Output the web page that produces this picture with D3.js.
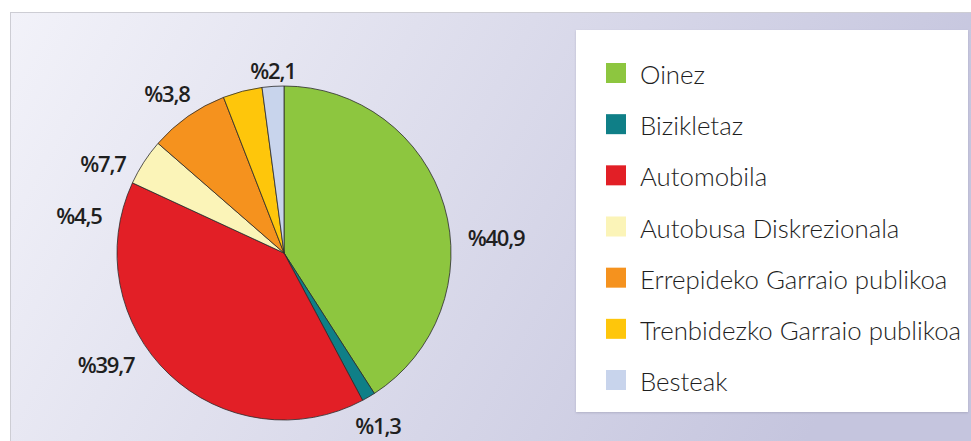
<!DOCTYPE html>
<html>
<head>
<meta charset="utf-8">
<script src="https://cdn.jsdelivr.net/npm/d3@7"></script>
<style>
  html, body { margin: 0; padding: 0; background: #ffffff; }
  svg { display: block; }
</style>
</head>
<body>
<svg id="chart" width="971" height="441"></svg>
<script>
// Modal split of trips (percent)
const categories = [
  "Oinez",
  "Bizikletaz",
  "Automobila",
  "Autobusa Diskrezionala",
  "Errepideko Garraio publikoa",
  "Trenbidezko Garraio publikoa",
  "Besteak"
];
const shares = [40.9, 1.3, 39.7, 4.5, 7.7, 3.8, 2.1];
const shareLabels = ["%40,9", "%1,3", "%39,7", "%4,5", "%7,7", "%3,8", "%2,1"];
const colors = ["#8dc63f", "#0f7f87", "#e21f26", "#fbf4b8", "#f5921e", "#fec60b", "#c8d4ec"];

const svg = d3.select("#chart");
const W = 971, H = 441;

// Panel background
const defs = svg.append("defs");
const grad = defs.append("linearGradient")
  .attr("id", "panelBg")
  .attr("x1", "0").attr("y1", "0").attr("x2", "1").attr("y2", "0.25");
grad.append("stop").attr("offset", "0%").attr("stop-color", "#f2f2f9");
grad.append("stop").attr("offset", "40%").attr("stop-color", "#e0e0ee");
grad.append("stop").attr("offset", "100%").attr("stop-color", "#c5c5de");

const shadow = defs.append("filter").attr("id", "boxShadow")
  .attr("x", "-5%").attr("y", "-5%").attr("width", "115%").attr("height", "115%");
shadow.append("feDropShadow")
  .attr("dx", 0).attr("dy", 1).attr("stdDeviation", 1.2)
  .attr("flood-color", "#8a8aa0").attr("flood-opacity", 0.45);

svg.append("rect")
  .attr("x", 10.5).attr("y", 12.5)
  .attr("width", W).attr("height", H)
  .attr("fill", "url(#panelBg)")
  .attr("stroke", "#cdcdd4").attr("stroke-width", 1);

// Pie
const cx = 284, cy = 253, radius = 167;
const pie = d3.pie().sort(null).value(d => d)
  .startAngle(0).endAngle(2 * Math.PI);
const arc = d3.arc().innerRadius(0).outerRadius(radius);

const pieG = svg.append("g").attr("transform", `translate(${cx},${cy})`);
pieG.selectAll("path.slice")
  .data(pie(shares))
  .join("path")
  .attr("class", "slice")
  .attr("d", arc)
  .attr("fill", (d, i) => colors[i])
  .attr("stroke", "#2b2b2b")
  .attr("stroke-width", 0.8)
  .attr("stroke-linejoin", "round");

// Percentage labels around the pie (offsets from the pie centre)
const labelOffsets = [
  [212, -16], [94, 172], [-178, 111], [-205, -38],
  [-181, -90], [-117, -160], [-11, -183]
];
svg.append("g")
  .selectAll("text")
  .data(shareLabels)
  .join("text")
  .attr("x", (d, i) => cx + labelOffsets[i][0])
  .attr("y", (d, i) => cy + labelOffsets[i][1])
  .attr("text-anchor", "middle")
  .attr("dominant-baseline", "central")
  .attr("font-family", "'Open Sans', sans-serif")
  .attr("font-weight", 600)
  .attr("font-size", 22)
  .attr("letter-spacing", -1.2)
  .attr("fill", "#1f1f1f")
  .text(d => d);

// Legend
const legendBox = { x: 576, y: 30, w: 392, h: 382 };
svg.append("rect")
  .attr("x", legendBox.x).attr("y", legendBox.y)
  .attr("width", legendBox.w).attr("height", legendBox.h)
  .attr("fill", "#ffffff")
  .attr("filter", "url(#boxShadow)");

const rowY = d3.scalePoint()
  .domain(categories)
  .range([73, 380]);

const legend = svg.append("g");
const rows = legend.selectAll("g.row")
  .data(categories)
  .join("g")
  .attr("class", "row")
  .attr("transform", d => `translate(0,${rowY(d)})`);

rows.append("rect")
  .attr("x", 606).attr("y", -10)
  .attr("width", 20).attr("height", 20)
  .attr("fill", (d, i) => colors[i]);

rows.append("text")
  .attr("x", 640).attr("y", 1)
  .attr("dominant-baseline", "central")
  .attr("font-family", "Lato, sans-serif")
  .attr("font-weight", 300)
  .attr("font-size", 25.8)
  .attr("fill", "#1e1e1e")
  .text(d => d);
</script>
</body>
</html>
